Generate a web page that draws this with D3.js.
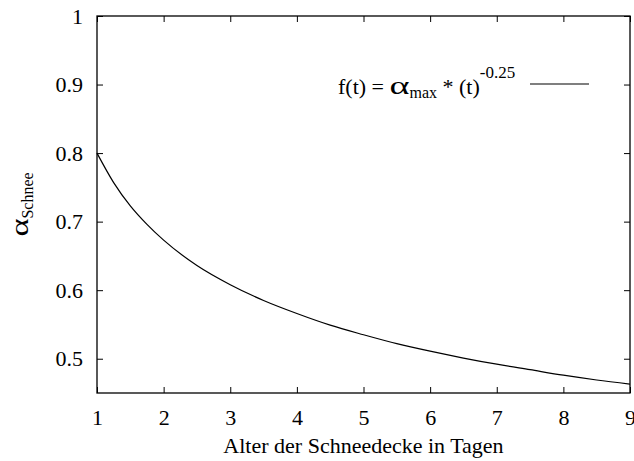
<!DOCTYPE html>
<html>
<head>
<meta charset="utf-8">
<script src="https://cdn.jsdelivr.net/npm/d3@7"></script>
<style>
  body { margin: 0; background: #fff; }
  text { font-family: "Liberation Serif", "Times New Roman", serif; fill: #000; }
</style>
</head>
<body>
<div id="chart"></div>
<script>
// values
var ages = [1, 1.25, 1.5, 1.75, 2, 2.5, 3, 3.5, 4, 4.5, 5, 5.5, 6, 6.5, 7, 7.5, 8, 8.5, 9];
var albedo = [0.800, 0.757, 0.723, 0.696, 0.673, 0.636, 0.608, 0.585, 0.566, 0.549, 0.535, 0.522, 0.511, 0.501, 0.492, 0.484, 0.476, 0.469, 0.463];
var xTicks = [1, 2, 3, 4, 5, 6, 7, 8, 9];
var yTicks = [0.5, 0.6, 0.7, 0.8, 0.9, 1];

var width = 634, height = 461;
var plotLeft = 97, plotRight = 630, plotTop = 16, plotBottom = 393;

var svg = d3.select("#chart").append("svg")
    .attr("width", width)
    .attr("height", height);

var x = d3.scaleLinear().domain([1, 9]).range([plotLeft, plotRight]);
var y = d3.scaleLinear().domain([0.45, 1]).range([plotBottom, plotTop]);

// axes, ticks pointing inwards (mirrored on top and right like gnuplot)
var gx = svg.append("g").attr("transform", "translate(0," + plotBottom + ")")
    .call(d3.axisBottom(x).tickValues(xTicks).tickSize(-6).tickPadding(16).tickFormat(d3.format("d")));
var gxTop = svg.append("g").attr("transform", "translate(0," + plotTop + ")")
    .call(d3.axisTop(x).tickValues(xTicks).tickSize(-6).tickFormat(""));
var gy = svg.append("g").attr("transform", "translate(" + plotLeft + ",0)")
    .call(d3.axisLeft(y).tickValues(yTicks).tickSize(-6).tickPadding(14).tickFormat(function(d){ return d === 1 ? "1" : d3.format(".1f")(d); }));
var gyRight = svg.append("g").attr("transform", "translate(" + plotRight + ",0)")
    .call(d3.axisRight(y).tickValues(yTicks).tickSize(-6).tickFormat(""));

[gx, gxTop, gy, gyRight].forEach(function(g){
    g.select(".domain").remove();
    g.selectAll(".tick line").attr("stroke", "#000");
    g.selectAll(".tick text").attr("font-size", "22px").attr("fill", "#000")
        .style("font-family", "'Liberation Serif', serif");
});

// frame
svg.append("rect")
    .attr("x", plotLeft).attr("y", plotTop)
    .attr("width", plotRight - plotLeft).attr("height", plotBottom - plotTop)
    .attr("fill", "none").attr("stroke", "#000").attr("stroke-width", 1.3);

// curve
var line = d3.line()
    .x(function(d){ return x(d[0]); })
    .y(function(d){ return y(d[1]); })
    .curve(d3.curveMonotoneX);

svg.append("path")
    .datum(d3.zip(ages, albedo))
    .attr("d", line)
    .attr("fill", "none")
    .attr("stroke", "#000")
    .attr("stroke-width", 1.2);

// legend
var legend = svg.append("text")
    .attr("x", 338).attr("y", 94)
    .attr("font-size", "22px");
legend.append("tspan").text("f(t) = ");
legend.append("tspan").attr("font-size", "25px").attr("textLength", 20)
    .attr("lengthAdjust", "spacingAndGlyphs").text("α");
legend.append("tspan").attr("font-size", "16px").attr("dy", 4).text("max");
legend.append("tspan").attr("dy", -4).text(" * (t)");
legend.append("tspan").attr("font-size", "17px").attr("dy", -16).text("-0.25");

svg.append("line")
    .attr("x1", 530).attr("x2", 589)
    .attr("y1", 84).attr("y2", 84)
    .attr("stroke", "#000").attr("stroke-width", 1.2);

// axis titles
svg.append("text")
    .attr("x", (plotLeft + plotRight) / 2).attr("y", 453)
    .attr("text-anchor", "middle")
    .attr("font-size", "22px")
    .text("Alter der Schneedecke in Tagen");

var ylab = svg.append("text")
    .attr("transform", "translate(28," + ((plotTop + plotBottom) / 2) + ") rotate(-90)")
    .attr("text-anchor", "middle")
    .attr("font-size", "22px");
ylab.append("tspan").attr("font-size", "25px").attr("textLength", 18)
    .attr("lengthAdjust", "spacingAndGlyphs").text("α");
ylab.append("tspan").attr("font-size", "16px").attr("dy", 5).text("Schnee");
</script>
</body>
</html>
